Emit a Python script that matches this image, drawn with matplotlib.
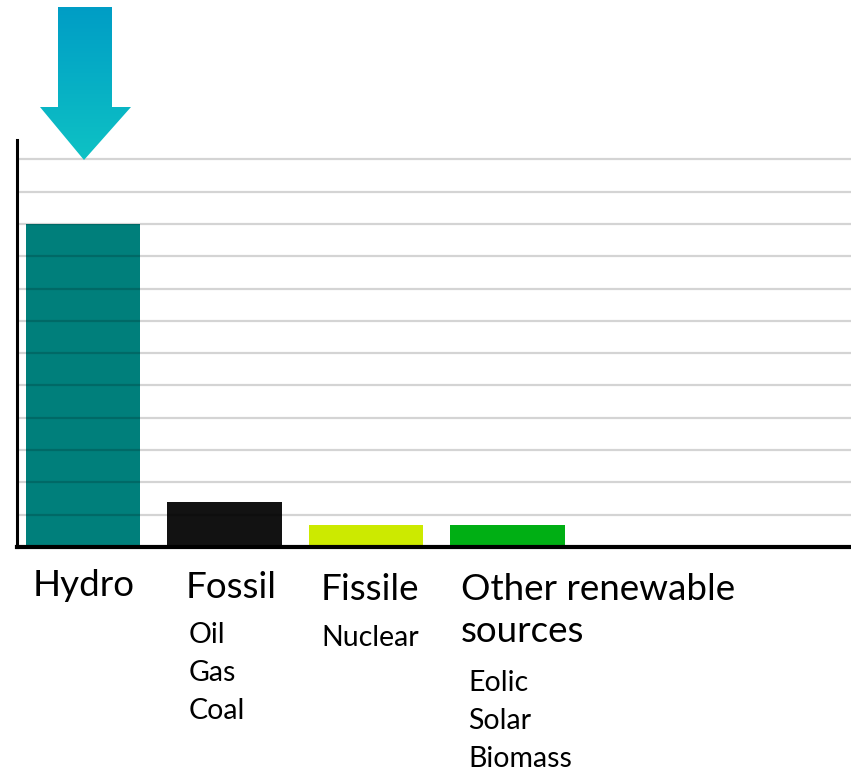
import numpy as np
import matplotlib
matplotlib.use("Agg")
import matplotlib.pyplot as plt
from matplotlib.patches import Polygon

categories = ["Hydro", "Fossil", "Fissile", "Other renewable\nsources"]
values = [10.0, 1.4, 0.68, 0.68]
colors = ["#007F7B", "#121212", "#CCEA00", "#00AF14"]
sublabels = [[], ["Oil", "Gas", "Coal"], ["Nuclear"], ["Eolic", "Solar", "Biomass"]]

W, H = 851, 772
fig = plt.figure(figsize=(W / 100, H / 100), dpi=100)
plt.rcParams['font.family'] = ['Lato', 'DejaVu Sans']

def fx(px):
    return px / W

def fy(py):
    return 1 - py / H

ax = fig.add_axes([fx(17), fy(547), fx(851) - fx(17), fy(140) - fy(547)])
x = np.arange(len(categories))
ax.bar(x, values, width=0.81, color=colors, zorder=1)
ax.set_xlim(-0.466, 5.428)
ax.set_ylim(0, 12.6)
for g in range(1, 13):
    ax.axhline(g, color="black", alpha=0.17, lw=1.6, zorder=2)
ax.set_xticks([])
ax.set_yticks([])
for s in ["top", "right"]:
    ax.spines[s].set_visible(False)
ax.spines["left"].set_linewidth(2.2)
ax.spines["bottom"].set_linewidth(3)
ax.spines["bottom"].set_zorder(3)

# category labels
main_x = [33, 186, 321, 461]
main_y = [585, 588, 590, 590]
for i, lab in enumerate(categories):
    for k, line in enumerate(lab.split("\n")):
        fig.text(fx(main_x[i]), fy(main_y[i] + 41 * k), line, fontsize=26.5,
                 ha="left", va="center")
sub_x = [0, 189, 321, 468]
sub_y0 = [0, 635, 638, 683]
for i, subs in enumerate(sublabels):
    for j, s in enumerate(subs):
        fig.text(fx(sub_x[i]), fy(sub_y0[i] + 38 * j), s, fontsize=20.5,
                 ha="left", va="center")

# gradient arrow
oax = fig.add_axes([0, 0, 1, 1], zorder=5)
oax.set_xlim(0, W)
oax.set_ylim(H, 0)
oax.axis("off")
pts = [(58, 7), (112, 7), (112, 107), (131, 107), (84, 160), (40, 107), (58, 107)]
poly = Polygon(pts, closed=True, facecolor="none", edgecolor="none")
oax.add_patch(poly)
top = np.array([0, 157, 198]) / 255
bot = np.array([14, 194, 196]) / 255
t = np.linspace(0, 1, 256)[:, None]
grad = (top[None, :] * (1 - t) + bot[None, :] * t)[:, None, :]
im = oax.imshow(grad, extent=[40, 131, 160, 7], aspect="auto", interpolation="bilinear")
im.set_clip_path(poly)
oax.set_xlim(0, W)
oax.set_ylim(H, 0)

fig.savefig("out.png", dpi=100)
